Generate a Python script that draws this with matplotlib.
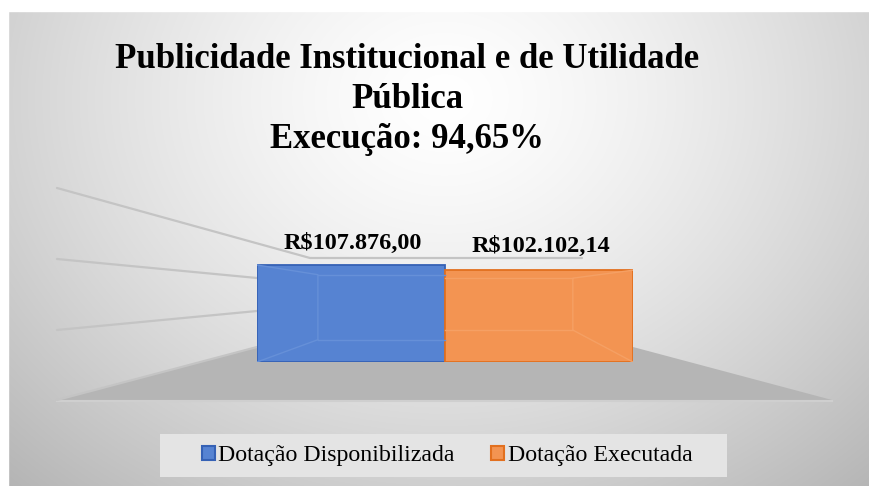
import numpy as np
import matplotlib
matplotlib.use("Agg")
import matplotlib.pyplot as plt
from matplotlib.patches import Polygon, Patch

# ---- data ----
series = ["Dotação Disponibilizada", "Dotação Executada"]
values = [107876.00, 102102.14]
labels = ["R$107.876,00", "R$102.102,14"]
title_lines = ["Publicidade Institucional e de Utilidade", "Pública", "Execução: 94,65%"]

W, H = 869, 486
fig = plt.figure(figsize=(W / 100, H / 100), dpi=100)
serif = ["Liberation Serif", "DejaVu Serif"]

# ---- background (pixel coordinates) ----
bg = fig.add_axes([0, 0, 1, 1])
bg.set_xlim(0, W)
bg.set_ylim(H, 0)
bg.axis("off")
yy, xx = np.mgrid[0:H, 0:W]
d = np.sqrt(((xx - 440) / 560.0) ** 2 + ((yy - 90) / 470.0) ** 2)
val = 1.0 - 0.24 * np.clip(d, 0, 1.2) ** 1.4
img = np.dstack([val, val, val])
bg.imshow(img, extent=[8, W, H, 11], aspect="auto", zorder=0)
bg.add_patch(plt.Rectangle((0, 0), W, 11, color="white", zorder=1))
bg.add_patch(plt.Rectangle((0, 0), 8, H, color="white", zorder=1))

# floor
bg.add_patch(Polygon([(57, 400), (257, 347), (633, 347), (832, 400)], closed=True,
                     facecolor="#b5b5b5", edgecolor="none", zorder=2))
bg.plot([57, 832], [400.5, 400.5], color="#cfcfcf", lw=1.5, zorder=3)
# side wall grid lines
gl = dict(color="#c4c4c4", lw=1.6, zorder=3, solid_capstyle="round")
bg.plot([57, 310, 582], [188, 258, 258], **gl)
bg.plot([57, 257], [259, 278], **gl)
bg.plot([57, 257], [330, 311], **gl)
bg.plot([57, 257], [400, 347], **gl)

# legend box
bg.add_patch(plt.Rectangle((160, 434), 567, 43, facecolor="#e4e4e4", edgecolor="none", zorder=2))

# ---- bars ----
px_per_unit = 97.0 / 107876.0
ymax = 120000
hpx = ymax * px_per_unit
left_px, right_px, base_px = 257, 633, 362
ax = fig.add_axes([left_px / W, (H - base_px) / H, (right_px - left_px) / W, hpx / H])
ax.set_xlim(0, 2)
ax.set_ylim(0, ymax)
ax.axis("off")
face = ["#5683d2", "#f39452"]
edge = ["#3561b5", "#e2701f"]
inner = ["#6690d8", "#f5a064"]
xs = np.arange(len(values))
ax.bar(xs, values, width=1.0, align="edge", color=face, edgecolor=edge, linewidth=1.3, zorder=3)

# back-face hints inside bars (fractions of each bar)
fr = [(0.324, 0.90, 0.23), (0.68, 0.913, 0.348)]
for i, v in enumerate(values):
    xi, t, b = fr[i]
    xin = i + xi
    if i == 0:
        xo = i
        ax.plot([xo, xin, xin], [v, v * t, v * b], color=inner[i], lw=1, zorder=4)
        ax.plot([xin, i + 1], [v * t, v * t], color=inner[i], lw=1, zorder=4)
        ax.plot([xin, i + 1], [v * b, v * b], color=inner[i], lw=1, zorder=4)
        ax.plot([xo, xin], [0, v * b], color=inner[i], lw=1, zorder=4)
    else:
        xo = i + 1
        ax.plot([xo, xin, xin], [v, v * t, v * b], color=inner[i], lw=1, zorder=4)
        ax.plot([i, xin], [v * t, v * t], color=inner[i], lw=1, zorder=4)
        ax.plot([i, xin], [v * b, v * b], color=inner[i], lw=1, zorder=4)
        ax.plot([xo, xin], [0, v * b], color=inner[i], lw=1, zorder=4)

label_x = [0.51, 1.51]
label_off = [8, 9.5]
for i, (v, lab) in enumerate(zip(values, labels)):
    ax.annotate(lab, (label_x[i], v), xytext=(0, label_off[i]), textcoords="offset points",
                ha="center", va="bottom", fontsize=17.5, fontweight="bold", family=serif, color="black")

# ---- title ----
tys = [59, 100, 140]
for t, y in zip(title_lines, tys):
    fig.text(407 / W, 1 - y / H, t, ha="center", va="center", fontsize=25,
             fontweight="bold", family=serif, color="black")

# ---- legend ----
handles = [Patch(facecolor=face[i], edgecolor=edge[i], linewidth=1.5) for i in range(2)]
leg = fig.legend(handles, series, loc="center", bbox_to_anchor=(447 / W, 1 - 456 / H), ncol=2,
                 frameon=False, prop={"family": serif, "size": 17.2},
                 handlelength=0.55, handleheight=0.55, handletextpad=0.15, columnspacing=1.5,
                 borderpad=0.2)

fig.savefig("out.png", dpi=100)
